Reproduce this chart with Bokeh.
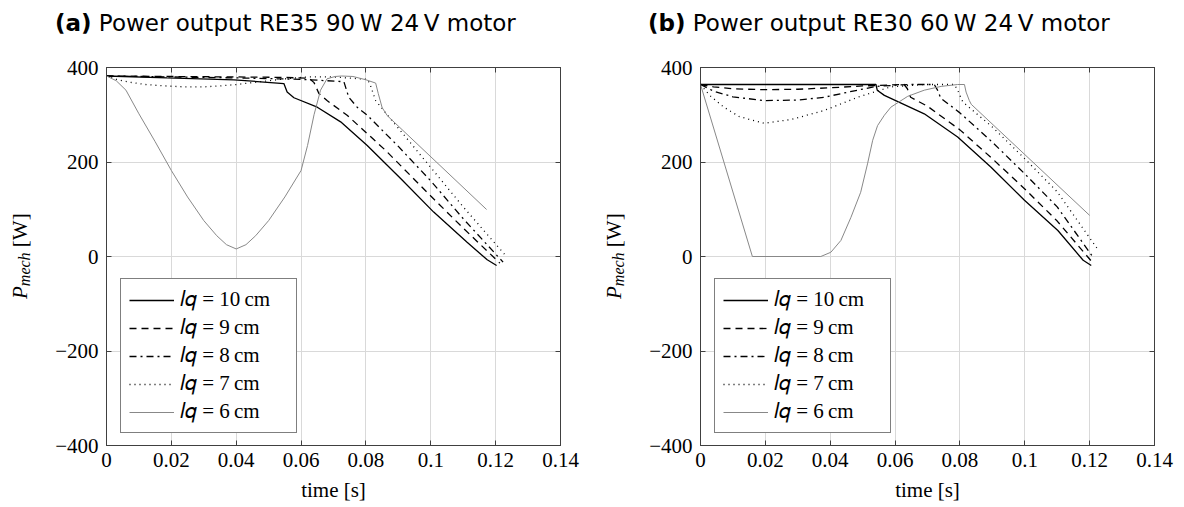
from bokeh.plotting import figure
from bokeh.models import (Range1d, FixedTicker, LinearAxis, Legend, LegendItem,
                          CustomJSTickFormatter, Div)
from bokeh.layouts import row, column
from bokeh.embed import file_html
from bokeh.resources import INLINE

# ---------------- data ----------------
x_ticks = [0, 0.02, 0.04, 0.06, 0.08, 0.1, 0.12, 0.14]
y_ticks = [-400, -200, 0, 200, 400]
labels = ["\U0001D459\U0001D45E = 10\u2009cm", "\U0001D459\U0001D45E = 9\u2009cm",
          "\U0001D459\U0001D45E = 8\u2009cm", "\U0001D459\U0001D45E = 7\u2009cm",
          "\U0001D459\U0001D45E = 6\u2009cm"]
title_a = "Power output RE35 90&thinsp;W 24&thinsp;V motor"
title_b = "Power output RE30 60&thinsp;W 24&thinsp;V motor"

# (a) RE35 90 W
t_a10 = [0, 0.0187, 0.0393, 0.0547, 0.0557, 0.0578, 0.065, 0.0722, 0.0804, 0.0907, 0.1009, 0.1112, 0.1174, 0.1203]
p_a10 = [382, 378, 374, 366, 348, 336, 316, 285, 235, 165, 94, 30, -7, -19]
t_a9 = [0, 0.02, 0.04, 0.055, 0.0625, 0.064, 0.0655, 0.068, 0.0742, 0.086, 0.1, 0.11, 0.1213]
p_a9 = [382, 381, 380, 379, 377, 368, 345, 330, 299, 225, 128, 60, -14]
t_a8 = [0, 0.02, 0.04, 0.06, 0.0732, 0.0747, 0.0773, 0.0804, 0.09, 0.1, 0.11, 0.1223]
p_a8 = [382, 380, 378, 375, 370, 337, 316, 299, 233, 160, 80, -12]
t_a7 = [0, 0.003, 0.007, 0.012, 0.018, 0.024, 0.03, 0.035, 0.04, 0.045, 0.05, 0.055, 0.062, 0.07,
        0.0805, 0.0815, 0.083, 0.0855, 0.095, 0.11, 0.1227]
p_a7 = [382, 375, 369, 364, 361, 359, 359, 361, 364, 368, 372, 376, 380, 380,
        375, 360, 330, 309, 230, 105, 5]
t_a6 = [0, 0.003, 0.006, 0.01, 0.015, 0.02, 0.025, 0.03, 0.034, 0.037, 0.04, 0.043, 0.046, 0.05,
        0.055, 0.06, 0.062, 0.064, 0.066, 0.068, 0.0705, 0.0725, 0.076, 0.08, 0.083, 0.0838,
        0.085, 0.0866, 0.1172]
p_a6 = [382, 372, 352, 302, 243, 182, 126, 76, 44, 25, 16, 25, 44, 76,
        126, 182, 235, 300, 352, 376, 381, 382, 381, 374, 367, 345,
        315, 298, 99.5]

# (b) RE30 60 W
t_b10 = [0, 0.02, 0.04, 0.0541, 0.0545, 0.0567, 0.069, 0.0793, 0.0896, 0.0999, 0.1102, 0.118, 0.1205]
p_b10 = [364, 364, 364, 364, 352, 341, 302, 253, 189, 119, 55, -8, -19]
t_b9 = [0, 0.004, 0.01, 0.0196, 0.03, 0.04, 0.05, 0.0628, 0.0638, 0.0648, 0.07, 0.08, 0.09, 0.1, 0.11, 0.1208]
p_b9 = [364, 359, 355, 353, 354, 357, 361, 364, 355, 337, 318, 268, 207, 143, 75, -12]
t_b8 = [0, 0.004, 0.01, 0.0196, 0.03, 0.0381, 0.047, 0.0541, 0.064, 0.0721, 0.0731, 0.0741, 0.08, 0.09, 0.1, 0.11, 0.1212]
p_b8 = [364, 350, 338, 330, 331, 337, 350, 360, 364, 364, 352, 335, 304, 242, 175, 105, -3]
t_b7 = [0, 0.003, 0.0072, 0.012, 0.0196, 0.028, 0.0381, 0.0485, 0.0587, 0.069, 0.0783, 0.0793,
        0.0809, 0.09, 0.1, 0.11, 0.1222]
p_b7 = [364, 340, 316, 296, 282, 290, 309, 337, 359, 364, 364, 352,
        327, 274, 207, 137, 18]
t_b6 = [0, 0.016, 0.0371, 0.0402, 0.0433, 0.0464, 0.0494, 0.0515, 0.0531, 0.0546, 0.0567, 0.0587,
        0.0639, 0.069, 0.0742, 0.0793, 0.0814, 0.0819, 0.0829, 0.0835, 0.12]
p_b6 = [364, 0, 0, 9, 34, 83, 136, 196, 246, 277, 299, 316,
        339, 352, 360, 364, 364, 348, 330, 322, 87]

# ---------------- styling ----------------
styles = [dict(line_color="black", line_width=1.3, line_dash="solid"),
          dict(line_color="black", line_width=1.3, line_dash="7 5"),
          dict(line_color="black", line_width=1.3, line_dash="7 4 2 4"),
          dict(line_color="black", line_width=1.3, line_dash="1 4"),
          dict(line_color="#888888", line_width=1.0, line_dash="solid")]

SERIF = "Liberation Serif"
FRAME_COL = "#404040"
FIG_H = 467

x_fmt = CustomJSTickFormatter(code="""
let s = tick.toFixed(2); s = s.replace(/0+$/, ''); s = s.replace(/\\.$/, ''); return s;""")
y_fmt = CustomJSTickFormatter(code="""
return tick < 0 ? '\\u2212' + Math.abs(tick) : '' + tick;""")
blank_fmt = CustomJSTickFormatter(code="return '';")


def make(width, left, series):
    right = width - left - 454
    p = figure(width=width, height=FIG_H, x_range=Range1d(0, 0.14), y_range=Range1d(-400, 400),
               output_backend="svg", toolbar_location=None,
               min_border_left=left, min_border_right=right,
               min_border_top=29, min_border_bottom=FIG_H - 29 - 378)
    p.background_fill_color = "white"
    p.border_fill_color = "white"
    p.outline_line_color = FRAME_COL
    p.outline_line_width = 1

    for ax, tk, fmt in ((p.xaxis[0], x_ticks, x_fmt), (p.yaxis[0], y_ticks, y_fmt)):
        ax.ticker = FixedTicker(ticks=tk)
        ax.formatter = fmt
        ax.major_tick_in = 5
        ax.major_tick_out = 0
        ax.minor_tick_line_color = None
        ax.major_tick_line_color = FRAME_COL
        ax.axis_line_color = FRAME_COL
        ax.major_label_text_font = SERIF
        ax.major_label_text_font_size = "21px"
        ax.major_label_text_color = "black"
    p.yaxis[0].major_label_standoff = 8
    p.xaxis[0].major_label_standoff = 7
    p.xaxis[0].axis_label = "time [s]"
    p.xaxis[0].axis_label_text_font = SERIF
    p.xaxis[0].axis_label_text_font_size = "21px"
    p.xaxis[0].axis_label_text_font_style = "normal"
    p.xaxis[0].axis_label_text_color = "black"
    p.xaxis[0].axis_label_standoff = 8

    top = LinearAxis(ticker=FixedTicker(ticks=x_ticks), formatter=blank_fmt,
                     major_tick_in=5, major_tick_out=0, minor_tick_line_color=None,
                     major_tick_line_color=FRAME_COL, axis_line_color=FRAME_COL,
                     major_label_standoff=0)
    rgt = LinearAxis(ticker=FixedTicker(ticks=y_ticks), formatter=blank_fmt,
                     major_tick_in=5, major_tick_out=0, minor_tick_line_color=None,
                     major_tick_line_color=FRAME_COL, axis_line_color=FRAME_COL,
                     major_label_standoff=0)
    p.add_layout(top, "above")
    p.add_layout(rgt, "right")

    p.grid.grid_line_color = "#d9d9d9"
    p.grid.grid_line_width = 1

    items = []
    for (t, pw), st, lab in zip(series, styles, labels):
        r = p.line(t, pw, **st)
        items.append(LegendItem(label=lab, renderers=[r]))

    leg = Legend(items=items, location=(14, 12), border_line_color="black",
                 border_line_width=1, background_fill_color="white",
                 background_fill_alpha=1, label_text_font=SERIF,
                 label_text_color="black",
                 label_text_font_size="21px", glyph_width=45, glyph_height=24,
                 label_height=24, label_width=108, spacing=3, padding=8, margin=0,
                 label_standoff=6)
    p.add_layout(leg)
    return p


def title_div(tag, text, width, pad_left):
    html = ('<div style="font-family:\'DejaVu Sans\'; font-size:23px; line-height:27px; '
            'padding-top:10px; padding-left:%dpx; white-space:nowrap; color:black; margin:0">'
            '<b>%s</b> %s</div>' % (pad_left, tag, text))
    return Div(text=html, width=width, height=38, margin=0)


def ylabel_div(width):
    html = ('<div style="margin-top:29px; height:378px; width:%dpx; writing-mode:vertical-rl; '
            'transform:rotate(180deg); text-align:center; line-height:%dpx; '
            'font-family:\'Liberation Serif\'; font-size:21px; color:black; white-space:nowrap">'
            '<i>P</i><sub style="font-size:16px"><i>mech</i></sub>&nbsp;[W]</div>' % (width, width))
    return Div(text=html, width=width, height=FIG_H, margin=0)


p1 = make(560, 66, [(t_a10, p_a10), (t_a9, p_a9), (t_a8, p_a8), (t_a7, p_a7), (t_a6, p_a6)])
p2 = make(552, 72, [(t_b10, p_b10), (t_b9, p_b9), (t_b8, p_b8), (t_b7, p_b7), (t_b6, p_b6)])

panel_a = column(title_div("(a)", title_a, 600, 55), row(ylabel_div(40), p1))
panel_b = column(title_div("(b)", title_b, 580, 48), row(ylabel_div(28), p2))

layout = row(panel_a, panel_b)
open("out.html", "w").write(file_html(layout, INLINE))
